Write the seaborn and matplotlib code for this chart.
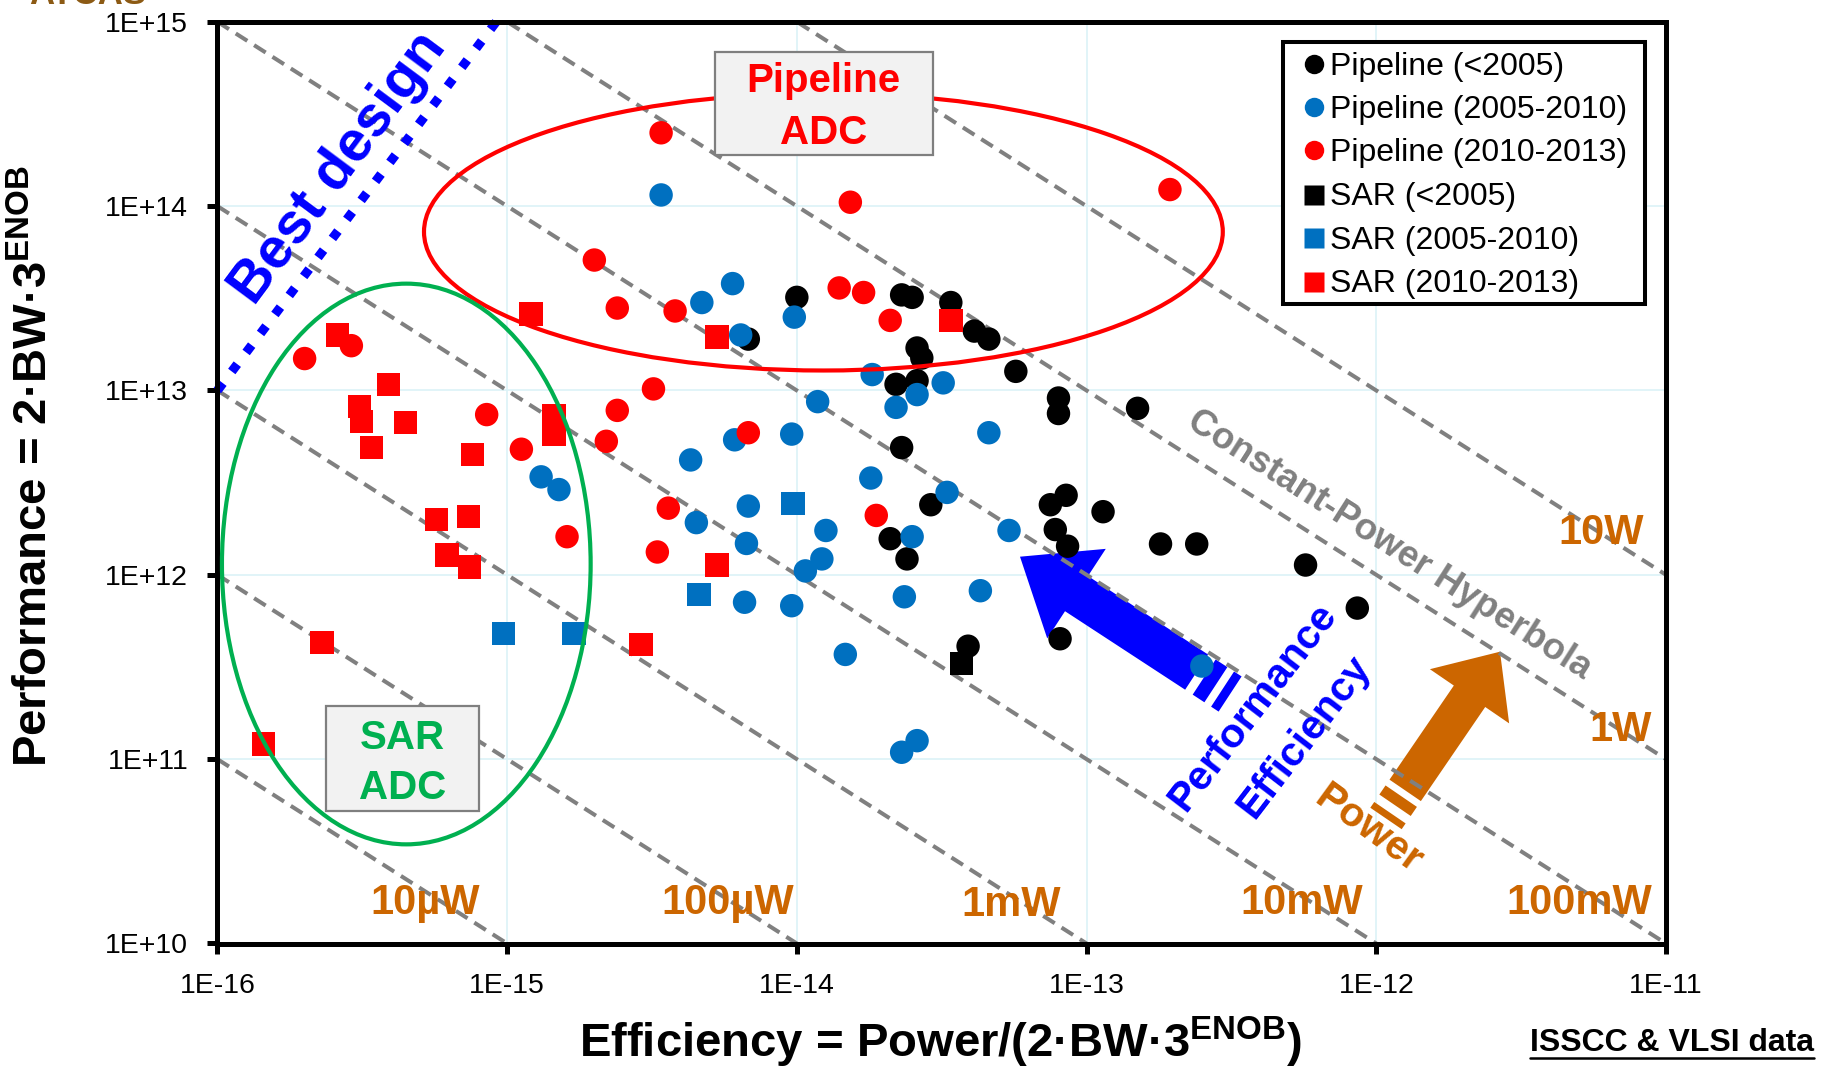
import numpy as np
import pandas as pd
import matplotlib
matplotlib.use("Agg")
import matplotlib.pyplot as plt
import seaborn as sns
from matplotlib.patches import Ellipse, Rectangle, Polygon
from matplotlib.lines import Line2D
from matplotlib.ticker import FixedLocator, FixedFormatter, NullLocator

# ---------------- data: efficiency [J] vs performance [1/s] ----------------
pipe_old_eff = [6.8e-15, 1.0e-14, 2.3e-14, 2.5e-14, 3.4e-14, 4.1e-14, 4.6e-14, 2.6e-14,
                2.7e-14, 5.7e-14, 2.2e-14, 2.6e-14, 8.0e-14, 8.0e-14, 1.5e-13, 2.3e-14,
                2.9e-14, 2.1e-14, 2.4e-14, 7.5e-14, 8.5e-14, 1.14e-13, 7.8e-14, 8.6e-14,
                1.8e-13, 2.4e-13, 5.7e-13, 8.6e-13, 8.1e-14, 3.9e-14]
pipe_old_perf = [1.9e13, 3.2e13, 3.3e13, 3.2e13, 3.0e13, 2.1e13, 1.9e13, 1.7e13,
                 1.5e13, 1.27e13, 1.08e13, 1.13e13, 9.1e12, 7.5e12, 8.0e12, 4.9e12,
                 2.4e12, 1.57e12, 1.22e12, 2.4e12, 2.7e12, 2.2e12, 1.76e12, 1.43e12,
                 1.47e12, 1.47e12, 1.13e12, 6.6e11, 4.5e11, 4.1e11]

pipe_mid_eff = [3.4e-15, 6.0e-15, 4.7e-15, 9.8e-15, 6.4e-15, 1.82e-14, 3.2e-14, 2.6e-14,
                2.2e-14, 1.18e-14, 6.1e-15, 9.6e-15, 4.3e-15, 4.6e-14, 1.31e-15, 1.51e-15,
                1.8e-14, 3.3e-14, 6.8e-15, 4.5e-15, 1.26e-14, 6.7e-15, 5.4e-14, 2.5e-14,
                1.22e-14, 1.07e-14, 4.3e-14, 2.35e-14, 6.6e-15, 9.6e-15, 1.47e-14, 2.6e-14,
                2.3e-14, 2.5e-13]
pipe_mid_perf = [1.15e14, 3.8e13, 3.0e13, 2.5e13, 2.0e13, 1.22e13, 1.1e13, 9.5e12,
                 8.1e12, 8.7e12, 5.4e12, 5.8e12, 4.2e12, 5.9e12, 3.4e12, 2.9e12,
                 3.35e12, 2.8e12, 2.36e12, 1.92e12, 1.74e12, 1.48e12, 1.74e12, 1.61e12,
                 1.22e12, 1.05e12, 8.2e11, 7.6e11, 7.1e11, 6.8e11, 3.7e11, 1.26e11,
                 1.09e11, 3.2e11]

pipe_new_eff = [3.4e-15, 1.53e-14, 1.94e-13, 2.0e-15, 2.4e-15, 3.8e-15, 1.4e-14, 1.7e-14,
                2.1e-14, 2.0e-16, 2.9e-16, 3.2e-15, 2.4e-15, 8.5e-16, 1.12e-15, 2.2e-15,
                6.8e-15, 3.6e-15, 1.61e-15, 3.3e-15, 1.88e-14]
pipe_new_perf = [2.5e14, 1.05e14, 1.23e14, 5.1e13, 2.8e13, 2.7e13, 3.6e13, 3.4e13,
                 2.4e13, 1.49e13, 1.75e13, 1.02e13, 7.8e12, 7.4e12, 4.8e12, 5.3e12,
                 5.9e12, 2.3e12, 1.61e12, 1.33e12, 2.1e12]

sar_old_eff = [3.7e-14]
sar_old_perf = [3.3e11]

sar_mid_eff = [9.7e-15, 4.6e-15, 9.7e-16, 1.7e-15]
sar_mid_perf = [2.43e12, 7.8e11, 4.8e11, 4.8e11]

sar_new_eff = [1.21e-15, 2.6e-16, 5.3e-15, 3.4e-14, 3.9e-16, 3.1e-16, 3.15e-16, 4.45e-16,
               1.45e-15, 1.45e-15, 3.4e-16, 7.6e-16, 5.7e-16, 7.35e-16, 6.2e-16, 7.4e-16,
               5.3e-15, 2.3e-16, 2.9e-15, 1.44e-16]
sar_new_perf = [2.6e13, 2.0e13, 1.95e13, 2.4e13, 1.08e13, 8.2e12, 6.8e12, 6.7e12,
                7.3e12, 5.8e12, 4.9e12, 4.5e12, 2.0e12, 2.07e12, 1.28e12, 1.10e12,
                1.13e12, 4.3e11, 4.2e11, 1.21e11]

series_names = ["Pipeline (<2005)", "Pipeline (2005-2010)", "Pipeline (2010-2013)",
                "SAR (<2005)", "SAR (2005-2010)", "SAR (2010-2013)"]
series_eff = [pipe_old_eff, pipe_mid_eff, pipe_new_eff, sar_old_eff, sar_mid_eff, sar_new_eff]
series_perf = [pipe_old_perf, pipe_mid_perf, pipe_new_perf, sar_old_perf, sar_mid_perf, sar_new_perf]
series_colors = ["#000000", "#0070C0", "#FF0000", "#000000", "#0070C0", "#FF0000"]
series_markers = ["o", "o", "o", "s", "s", "s"]

# constant-power hyperbolas (W) and their labels
power_levels = [1e-5, 1e-4, 1e-3, 1e-2, 1e-1, 1.0, 10.0]
power_labels = ["10µW", "100µW", "1mW", "10mW", "100mW", "1W", "10W"]

# "best design" guide line
best_eff = [1e-16, 9.3e-16]
best_perf = [1e13, 1.03e15]

x_ticks = [1e-16, 1e-15, 1e-14, 1e-13, 1e-12, 1e-11]
x_ticklabels = ["1E-16", "1E-15", "1E-14", "1E-13", "1E-12", "1E-11"]
y_ticks = [1e10, 1e11, 1e12, 1e13, 1e14, 1e15]
y_ticklabels = ["1E+10", "1E+11", "1E+12", "1E+13", "1E+14", "1E+15"]

# ---------------- figure setup ----------------
W, H = 1837, 1067
sns.set_style("white")
plt.rcParams["font.family"] = ["Liberation Sans", "DejaVu Sans"]
plt.rcParams["mathtext.fontset"] = "custom"
plt.rcParams["mathtext.rm"] = "Liberation Sans"
plt.rcParams["mathtext.bf"] = "Liberation Sans:bold"


def fx(x):
    return x / W


def fy(y):
    return 1.0 - y / H


fig = plt.figure(figsize=(W / 100, H / 100), dpi=100, facecolor="white")
ax_l, ax_r, ax_t, ax_b = 217.4, 1666.0, 21.8, 943.5
ax = fig.add_axes([fx(ax_l), fy(ax_b), (ax_r - ax_l) / W, (ax_b - ax_t) / H])
ax.set_facecolor("white")
ax.set_xscale("log")
ax.set_yscale("log")

frames = [pd.DataFrame({"eff": e, "perf": p, "series": n})
          for n, e, p in zip(series_names, series_eff, series_perf)]
df = pd.concat(frames, ignore_index=True)

sns.scatterplot(data=df, x="eff", y="perf", hue="series", style="series",
                hue_order=series_names, style_order=series_names,
                palette=dict(zip(series_names, series_colors)),
                markers=dict(zip(series_names, series_markers)),
                s=285, linewidth=0, edgecolor="none", legend=False, ax=ax, zorder=3)

# constant-power dashed lines
xs = np.array([1e-16, 1e-11])
for p in power_levels:
    ax.plot(xs, p / xs, color="#808080", lw=2.9, ls=(0, (3.4, 2.0)), zorder=2)

# best-design dotted line
ax.plot(best_eff, best_perf, color="#0000FF", lw=6.6, ls=(0, (1, 1.6)),
        dash_capstyle="butt", clip_on=False, zorder=2)

ax.set_xlim(1e-16, 1e-11)
ax.set_ylim(1e10, 1e15)
ax.xaxis.set_major_locator(FixedLocator(x_ticks))
ax.xaxis.set_major_formatter(FixedFormatter(x_ticklabels))
ax.yaxis.set_major_locator(FixedLocator(y_ticks))
ax.yaxis.set_major_formatter(FixedFormatter(y_ticklabels))
ax.xaxis.set_minor_locator(NullLocator())
ax.yaxis.set_minor_locator(NullLocator())
ax.tick_params(axis="both", which="major", direction="out", length=7, width=3.6,
               color="black", labelsize=20.5, labelcolor="black", pad=14,
               top=False, right=False, bottom=True, left=True)
ax.grid(True, which="major", color="#DCF2F7", lw=1.2)
ax.set_axisbelow(True)
for sp in ax.spines.values():
    sp.set_linewidth(3.6)
    sp.set_color("black")
ax.set_xlabel("")
ax.set_ylabel("")

# ---------------- annotations ----------------
TF = fig.transFigure


def striped_arrow(tip, d, head_len, head_hw, shaft_hw, body_len, stripes, color):
    d = np.array(d, dtype=float)
    d /= np.linalg.norm(d)
    pv = np.array([-d[1], d[0]])
    tip = np.array(tip, dtype=float)

    def pt(a, b):
        q = tip + a * d + b * pv
        return (fx(q[0]), fy(q[1]))

    body = [pt(0, 0), pt(head_len, -head_hw), pt(head_len, -shaft_hw),
            pt(body_len, -shaft_hw), pt(body_len, shaft_hw), pt(head_len, shaft_hw),
            pt(head_len, head_hw)]
    ax.add_patch(Polygon(body, closed=True, facecolor=color, edgecolor="none",
                         transform=TF, zorder=1.5))
    for s0, s1 in stripes:
        rect = [pt(s0, -shaft_hw), pt(s1, -shaft_hw), pt(s1, shaft_hw), pt(s0, shaft_hw)]
        ax.add_patch(Polygon(rect, closed=True, facecolor=color, edgecolor="none",
                             transform=TF, zorder=1.5))


striped_arrow((1020, 556.7), (0.837, 0.547), 67.5, 53.5, 21, 211,
              [(220, 234), (242, 251)], "#0000FF")
striped_arrow((1500, 651.7), (-0.564, 0.825), 54, 48, 19, 168,
              [(175, 186), (195, 202)], "#CC6600")

# grouping ellipses
ax.add_patch(Ellipse((fx(823.4), fy(231.8)), 798.8 / W, 277.4 / H, transform=TF,
                     facecolor="none", edgecolor="#FF0000", lw=3.0, zorder=4))
ax.add_patch(Ellipse((fx(406.3), fy(564.0)), 368.7 / W, 560.7 / H, transform=TF,
                     facecolor="none", edgecolor="#00B050", lw=3.0, zorder=4))

# group label boxes
ax.add_patch(Rectangle((fx(715), fy(155)), 217.6 / W, 103.3 / H, transform=TF,
                       facecolor="#F2F2F2", edgecolor="#7F7F7F", lw=1.6, zorder=5))
ax.text(fx(823.8), fy(91.7), "Pipeline", transform=TF, ha="center", va="baseline",
        fontsize=29, fontweight="bold", color="#FF0000", zorder=6)
ax.text(fx(823.8), fy(144), "ADC", transform=TF, ha="center", va="baseline",
        fontsize=29, fontweight="bold", color="#FF0000", zorder=6)

ax.add_patch(Rectangle((fx(325.9), fy(810.6)), 153.1 / W, 104.2 / H, transform=TF,
                       facecolor="#F2F2F2", edgecolor="#7F7F7F", lw=1.6, zorder=5))
ax.text(fx(402.5), fy(749), "SAR", transform=TF, ha="center", va="baseline",
        fontsize=29, fontweight="bold", color="#00B050", zorder=6)
ax.text(fx(402.5), fy(798.7), "ADC", transform=TF, ha="center", va="baseline",
        fontsize=29, fontweight="bold", color="#00B050", zorder=6)

# power level labels
label_pos = [(425, 914), (728, 914), (1011, 916), (1301.6, 914), (1579.6, 914),
             (1620.5, 741), (1600.8, 544)]
for lab, (lx, ly) in zip(power_labels, label_pos):
    ax.text(fx(lx), fy(ly), lab, transform=TF, ha="center", va="baseline",
            fontsize=30, fontweight="bold", color="#CC6600", zorder=6)

ax.text(fx(339), fy(168), "Best design", transform=TF, rotation=53.4,
        rotation_mode="anchor", ha="center", va="center", fontsize=41,
        fontweight="bold", color="#0000FF", zorder=6)
ax.text(fx(1389.5), fy(545.4), "Constant-Power Hyperbola", transform=TF,
        rotation=-32.5, rotation_mode="anchor", ha="center", va="center",
        fontsize=26.5, fontweight="bold", color="#808080", zorder=6)
ax.text(fx(1252.5), fy(706.7), "Performance", transform=TF, rotation=52.5,
        rotation_mode="anchor", ha="center", va="center", fontsize=29.5,
        fontweight="bold", color="#0000FF", zorder=6)
ax.text(fx(1304), fy(736.7), "Efficiency", transform=TF, rotation=52.5,
        rotation_mode="anchor", ha="center", va="center", fontsize=29.5,
        fontweight="bold", color="#0000FF", zorder=6)
ax.text(fx(1368.7), fy(829), "Power", transform=TF, rotation=-36,
        rotation_mode="anchor", ha="center", va="center", fontsize=29.5,
        fontweight="bold", color="#CC6600", zorder=6)

# ---------------- legend ----------------
fig.add_artist(Rectangle((fx(1283.3), fy(304)), (1645 - 1283.3) / W, (304 - 41.7) / H,
                         transform=TF, facecolor="white", edgecolor="black", lw=2.9,
                         zorder=10))
row_y = [64, 107.3, 150.4, 194.5, 238.2, 281.7]
for name, col, mk, ry in zip(series_names, series_colors, series_markers, row_y):
    fig.add_artist(Line2D([fx(1313.8)], [fy(ry)], transform=TF, marker=mk,
                          markersize=14, markerfacecolor=col, markeredgecolor="none",
                          linestyle="none", zorder=11))
    fig.text(fx(1330), fy(ry + 10.5), name, ha="left", va="baseline", fontsize=23,
             color="black", zorder=11)

# ---------------- axis titles and footer ----------------
fig.text(fx(941), fy(1057), "Efficiency = Power/(2·BW·$\\mathbf{3}^{\\mathbf{ENOB}}$)",
         ha="center", va="baseline", fontsize=34, fontweight="bold", color="black")
fig.text(fx(35), fy(466), "Performance = 2·BW·$\\mathbf{3}^{\\mathbf{ENOB}}$",
         rotation=90, ha="center", va="center", fontsize=34, fontweight="bold",
         color="black")
fig.text(fx(29), fy(4), "ATCAS", ha="left", va="baseline", fontsize=25,
         fontweight="bold", color="#8C5A14")
foot = fig.text(fx(1530), fy(1051), "ISSCC & VLSI data", ha="left", va="baseline",
                fontsize=23, fontweight="bold", color="black")
fig.canvas.draw()
bb = foot.get_window_extent()
fig.add_artist(Line2D([bb.x0 / W, bb.x1 / W], [fy(1058)] * 2, transform=TF,
                      color="black", lw=1.8))

fig.savefig("out.png", dpi=100, facecolor="white")
